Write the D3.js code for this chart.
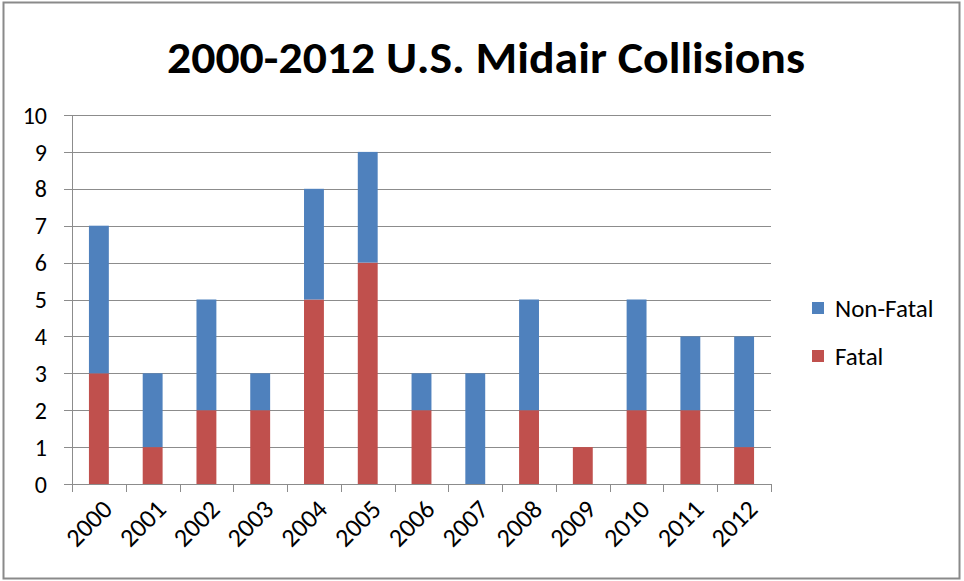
<!DOCTYPE html>
<html>
<head>
<meta charset="utf-8">
<script src="https://cdn.jsdelivr.net/npm/d3@7"></script>
<style>
  body { margin: 0; background: #fff; }
  svg text { font-family: Carlito, "Liberation Sans Narrow", "Open Sans", sans-serif; fill: #000; }
</style>
</head>
<body>
<div id="chart-container"></div>
<script>
// chart data
const years = ["2000", "2001", "2002", "2003", "2004", "2005", "2006", "2007", "2008", "2009", "2010", "2011", "2012"];
const fatal = [3, 1, 2, 2, 5, 6, 2, 0, 2, 1, 2, 2, 1];
const nonFatal = [4, 2, 3, 1, 3, 3, 1, 3, 3, 0, 3, 2, 3];
const yTicks = [0, 1, 2, 3, 4, 5, 6, 7, 8, 9, 10];
const seriesNames = ["Fatal", "Non-Fatal"];
const seriesColors = ["#C0504D", "#4F81BD"];

const width = 964, height = 581;
const margin = { left: 72, right: 193, top: 115, bottom: 97 };

const svg = d3.select("#chart-container").append("svg")
    .attr("width", width)
    .attr("height", height);

// outer border
svg.append("rect")
    .attr("x", 3.5).attr("y", 2.5)
    .attr("width", 956).attr("height", 576)
    .attr("fill", "#fff")
    .attr("stroke", "#8a8a8a")
    .attr("stroke-width", 2);

svg.append("text")
    .attr("x", 486).attr("y", 73)
    .attr("text-anchor", "middle")
    .attr("font-size", 44)
    .attr("font-weight", "bold")
    .attr("textLength", 638)
    .attr("lengthAdjust", "spacingAndGlyphs")
    .text("2000-2012 U.S. Midair Collisions");

const x = d3.scaleBand()
    .domain(years)
    .range([margin.left, width - margin.right])
    .paddingInner(0.63)
    .paddingOuter(0.315);

const y = d3.scaleLinear()
    .domain([0, 10])
    .range([height - margin.bottom, margin.top]);

// gridlines
svg.append("g")
    .selectAll("line")
    .data(yTicks)
    .join("line")
    .attr("x1", margin.left - 8)
    .attr("x2", width - margin.right)
    .attr("y1", d => Math.round(y(d)) + 0.5)
    .attr("y2", d => Math.round(y(d)) + 0.5)
    .attr("stroke", "#8c8c8c")
    .attr("stroke-width", 1);

// y labels
svg.append("g")
    .selectAll("text")
    .data(yTicks)
    .join("text")
    .attr("x", 47)
    .attr("y", d => y(d))
    .attr("dy", "0.36em")
    .attr("text-anchor", "end")
    .attr("font-size", 24)
    .text(d => d);

// stacked series
const rows = years.map((yr, i) => ({ year: yr, Fatal: fatal[i], "Non-Fatal": nonFatal[i] }));
const stack = d3.stack().keys(seriesNames)(rows);

svg.append("g")
    .selectAll("g")
    .data(stack)
    .join("g")
    .attr("fill", (d, i) => seriesColors[i])
    .selectAll("rect")
    .data(d => d)
    .join("rect")
    .attr("x", d => x(d.data.year))
    .attr("width", x.bandwidth())
    .attr("y", d => y(d[1]))
    .attr("height", d => y(d[0]) - y(d[1]));

// y axis line
svg.append("line")
    .attr("x1", margin.left + 0.5).attr("x2", margin.left + 0.5)
    .attr("y1", y(10)).attr("y2", y(0))
    .attr("stroke", "#8c8c8c");

// x axis ticks between categories
const tickXs = d3.range(years.length + 1).map(i => margin.left + i * (width - margin.left - margin.right) / years.length);
svg.append("g")
    .selectAll("line")
    .data(tickXs)
    .join("line")
    .attr("x1", d => Math.round(d) + 0.5).attr("x2", d => Math.round(d) + 0.5)
    .attr("y1", y(0)).attr("y2", y(0) + 8)
    .attr("stroke", "#8c8c8c");

// x labels
svg.append("g")
    .selectAll("text")
    .data(years)
    .join("text")
    .attr("transform", d => `translate(${x(d) + x.bandwidth() / 2 + 2},${y(0) + 14}) rotate(-45)`)
    .attr("text-anchor", "end")
    .attr("dy", "0.7em")
    .attr("font-size", 26)
    .text(d => d);

// legend
const legendItems = [
    { name: "Non-Fatal", color: seriesColors[1] },
    { name: "Fatal", color: seriesColors[0] }
];
const legend = svg.selectAll(".legend")
    .data(legendItems)
    .join("g")
    .attr("class", "legend")
    .attr("transform", (d, i) => `translate(812,${308 + i * 48})`);

legend.append("rect")
    .attr("x", 0).attr("y", -6)
    .attr("width", 12).attr("height", 12)
    .attr("fill", d => d.color);

legend.append("text")
    .attr("x", 23)
    .attr("y", 0)
    .attr("dy", "0.36em")
    .attr("font-size", 25)
    .text(d => d.name);
</script>
</body>
</html>
